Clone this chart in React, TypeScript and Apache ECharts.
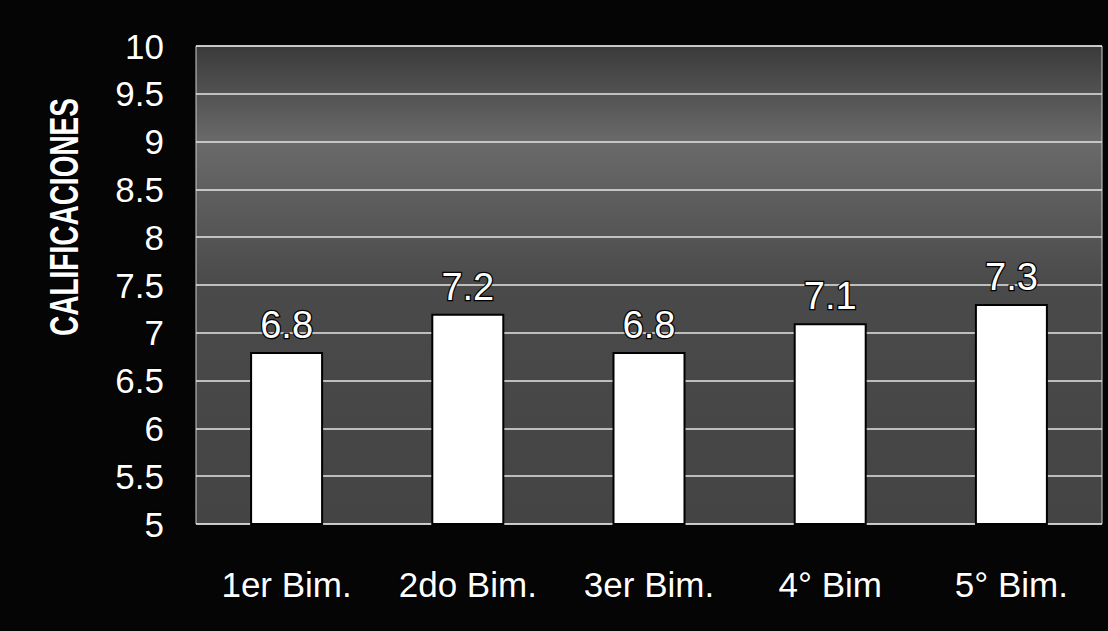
import React, { useEffect, useRef } from "react";
import * as echarts from "echarts";

const categories = ["1er Bim.", "2do Bim.", "3er Bim.", "4° Bim", "5° Bim."];
const values = [6.8, 7.2, 6.8, 7.1, 7.3];
const yTitle = "CALIFICACIONES";

export default function App() {
  const ref = useRef<HTMLDivElement>(null);
  useEffect(() => {
    if (!ref.current) return;
    const chart = echarts.init(ref.current, null, { renderer: "svg" });
    const outline = { color: "#ffffff", textBorderColor: "#000000", textBorderWidth: 2.5, fontFamily: "Arial, 'Liberation Sans', sans-serif" };
    chart.setOption({
      animation: false,
      backgroundColor: "#050505",
      grid: {
        left: 196,
        right: 6,
        top: 46,
        bottom: 107,
        show: true,
        backgroundColor: {
          type: "linear", x: 0, y: 0, x2: 0, y2: 1,
          colorStops: [
            { offset: 0, color: "#3a3a3a" },
            { offset: 0.2, color: "#6a6a6a" },
            { offset: 0.5, color: "#4a4a4a" },
            { offset: 1, color: "#444444" },
          ],
        },
        borderColor: "#cfcfcf",
        borderWidth: 1,
      },
      graphic: [
        {
          type: "text",
          x: 63,
          y: 217,
          rotation: Math.PI / 2,
          scaleY: 1.45,
          style: {
            text: yTitle,
            fill: "#ffffff",
            stroke: "#000000",
            lineWidth: 2,
            fontFamily: "Arial, 'Liberation Sans', sans-serif",
            fontSize: 28,
            fontWeight: "bold",
            align: "center",
            verticalAlign: "middle",
          },
        },
      ],
      xAxis: {
        type: "category",
        data: categories,
        axisLine: { show: false },
        axisTick: { show: false },
        axisLabel: { ...outline, fontSize: 35, margin: 43, interval: 0 },
      },
      yAxis: {
        type: "value",
        min: 5,
        max: 10,
        interval: 0.5,
        axisLine: { show: false },
        axisTick: { show: false },
        axisLabel: { ...outline, fontSize: 35, margin: 32 },
        splitLine: { lineStyle: { color: "#e6e6e6", width: 1.5 } },
      },
      series: [
        {
          type: "bar",
          data: values,
          barWidth: 73,
          itemStyle: { color: "#ffffff", borderColor: "#000000", borderWidth: 2 },
          label: {
            show: true,
            position: "top",
            distance: 8,
            ...outline,
            fontSize: 38,
          },
        },
      ],
    });
    return () => chart.dispose();
  }, []);
  return (
    <div
      ref={ref}
      style={{ position: "fixed", left: 0, top: 0, width: 1108, height: 631 }}
    />
  );
}
